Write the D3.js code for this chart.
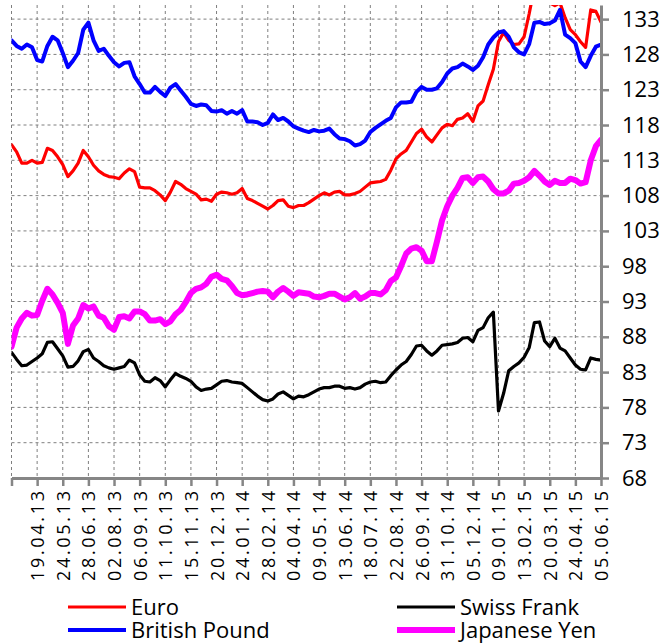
<!DOCTYPE html>
<html>
<head>
<meta charset="utf-8">
<script src="https://cdn.jsdelivr.net/npm/d3@7"></script>
<style>
  body { margin: 0; background: #fff; }
  text { font-family: "Open Sans", sans-serif; fill: #000; }
</style>
</head>
<body>
<script>
// tick labels, one every 5 weeks (first tick has no label)
var dates = ["19.04.13","24.05.13","28.06.13","02.08.13","06.09.13","11.10.13","15.11.13","20.12.13",
             "24.01.14","28.02.14","04.04.14","09.05.14","13.06.14","18.07.14","22.08.14","26.09.14",
             "31.10.14","05.12.14","09.01.15","13.02.15","20.03.15","24.04.15","05.06.15"];

var yTicks = [68,73,78,83,88,93,98,103,108,113,118,123,128,133];

// weekly values
var euro = [115.2,114.2,112.6,112.6,113.0,112.6,112.7,114.7,114.4,113.5,
            112.4,110.7,111.5,112.6,114.4,113.5,112.3,111.5,111.0,110.7,
            110.6,110.4,111.2,111.8,111.4,109.2,109.1,109.1,108.7,108.1,
            107.3,108.5,110.0,109.6,109.0,108.6,108.2,107.4,107.5,107.2,
            108.2,108.5,108.4,108.2,108.4,109.0,107.6,107.3,106.9,106.5,
            106.1,106.6,107.3,107.4,106.5,106.3,106.6,106.6,107.0,107.5,
            108.0,108.4,108.1,108.5,108.6,108.1,108.1,108.3,108.6,109.2,
            109.8,109.9,110.0,110.3,111.6,113.2,113.9,114.4,115.6,116.8,
            117.4,116.3,115.6,116.6,117.6,118.1,117.9,118.8,119.0,119.6,
            118.5,120.7,121.4,123.7,125.9,129.8,131.1,130.0,129.4,129.5,
            130.5,133.8,137.5,138.8,137.0,135.3,134.9,135.3,133.2,131.5,
            130.8,129.8,129.0,134.3,134.1,132.6];

var franc = [85.8,84.8,83.9,84.0,84.5,85.0,85.6,87.2,87.3,86.3,
             85.3,83.7,83.8,84.6,85.9,86.2,85.0,84.5,83.9,83.6,
             83.4,83.6,83.8,84.7,84.3,82.6,81.7,81.6,82.2,81.8,
             80.9,81.9,82.8,82.4,82.1,81.7,80.9,80.4,80.6,80.7,
             81.2,81.7,81.8,81.6,81.5,81.4,80.8,80.2,79.6,79.1,
             78.9,79.2,79.9,80.2,79.7,79.2,79.6,79.5,79.8,80.2,
             80.6,80.8,80.8,81.0,81.0,80.7,80.8,80.6,80.8,81.3,
             81.6,81.7,81.5,81.6,82.5,83.3,84.0,84.5,85.5,86.7,
             86.8,86.0,85.4,86.0,86.8,86.9,87.0,87.2,87.8,87.9,
             87.3,88.9,89.3,90.7,91.5,77.5,80.0,83.2,83.8,84.3,
             85.1,86.5,90.0,90.1,87.4,86.6,87.8,86.4,86.0,85.0,
             84.0,83.4,83.3,85.0,84.8,84.7];

var pound = [130.0,129.2,128.8,129.4,129.0,127.2,127.0,129.2,130.5,130.0,
             128.2,126.2,127.1,128.2,131.5,132.5,130.0,128.5,128.8,127.8,
             126.9,126.3,126.8,126.9,124.9,123.8,122.6,122.6,123.4,122.7,
             122.1,123.3,123.8,122.9,122.0,121.0,120.7,120.9,120.8,120.0,
             119.9,120.1,119.6,120.0,119.6,120.1,118.5,118.5,118.4,118.0,
             118.3,119.5,118.7,119.0,118.5,117.8,117.5,117.2,117.0,117.3,
             117.1,117.2,117.5,116.7,116.1,116.0,115.7,115.1,115.3,115.8,
             117.0,117.6,118.1,118.6,119.0,120.5,121.2,121.2,121.3,122.7,
             123.4,123.0,123.0,123.2,124.1,125.3,126.0,126.2,126.7,126.3,
             125.8,126.4,127.6,129.4,130.4,131.1,131.3,130.5,129.0,128.3,
             128.0,129.5,132.5,132.6,132.3,132.4,132.8,134.3,130.8,130.3,
             129.6,127.0,126.2,127.8,129.1,129.4];

var yen = [86.6,89.3,90.6,91.4,91.0,91.1,93.1,94.8,94.0,92.8,
           91.4,87.0,89.6,90.6,92.5,92.0,92.3,91.0,90.7,89.5,
           89.0,90.8,90.9,90.6,91.6,91.6,91.2,90.3,90.3,90.5,
           89.8,90.2,91.2,91.8,92.9,94.2,94.8,95.0,95.5,96.5,
           96.8,96.2,96.0,95.2,94.2,93.9,94.0,94.2,94.4,94.5,
           94.4,93.6,94.4,94.9,94.4,93.8,94.3,94.2,94.1,93.7,
           93.6,93.8,94.1,94.1,93.7,93.3,93.6,94.2,93.4,93.7,
           94.2,94.2,94.0,94.6,95.9,96.4,98.0,99.8,100.5,100.7,
           100.2,98.7,98.7,101.5,104.5,106.5,108.0,109.1,110.5,110.6,
           109.8,110.6,110.7,110.0,108.9,108.3,108.3,108.7,109.7,109.8,
           110.1,110.6,111.5,110.8,110.0,109.5,110.1,109.8,109.8,110.4,
           110.2,109.7,109.9,113.0,115.0,115.9];

var series = [
  { name: "Euro", values: euro, color: "#ff0000", width: 3.2 },
  { name: "Swiss Frank", values: franc, color: "#000000", width: 3.2 },
  { name: "British Pound", values: pound, color: "#0000ff", width: 4 },
  { name: "Japanese Yen", values: yen, color: "#ff00ff", width: 6 }
];

var W = 664, H = 643;
var plotLeft = 11.5, plotRight = 601, plotTop = 5, plotBottom = 478;
var weeksPerTick = 5;
var nWeeks = euro.length - 1;

var svg = d3.select("body").append("svg").attr("width", W).attr("height", H);

var x = d3.scaleLinear().domain([0, nWeeks]).range([plotLeft, plotRight]);
var y = d3.scaleLinear().domain([68, 135]).range([plotBottom, plotTop]);

var tickIdx = d3.range(0, nWeeks + 1, weeksPerTick);

// dashed grid
svg.append("g").selectAll("line").data(tickIdx.slice(0, -1)).join("line")
  .attr("x1", d => x(d)).attr("x2", d => x(d))
  .attr("y1", plotTop).attr("y2", plotBottom)
  .attr("stroke", "#7f7f7f").attr("stroke-width", 1).attr("stroke-dasharray", "3,3");
svg.append("g").selectAll("line").data(yTicks.slice(1)).join("line")
  .attr("x1", plotLeft).attr("x2", plotRight)
  .attr("y1", d => y(d)).attr("y2", d => y(d))
  .attr("stroke", "#7f7f7f").attr("stroke-width", 1).attr("stroke-dasharray", "3,3");

svg.append("clipPath").attr("id", "plot")
  .append("rect").attr("x", plotLeft).attr("y", plotTop)
  .attr("width", plotRight - plotLeft).attr("height", plotBottom - plotTop);

var line = d3.line().x((d, i) => x(i)).y(d => y(d));

svg.append("g").attr("clip-path", "url(#plot)")
  .selectAll("path").data(series).join("path")
  .attr("d", d => line(d.values))
  .attr("fill", "none")
  .attr("stroke", d => d.color)
  .attr("stroke-width", d => d.width)
  .attr("stroke-linejoin", "round")
  .attr("stroke-linecap", "round");

// x axis
var xAxis = svg.append("g").attr("transform", "translate(0," + plotBottom + ")")
  .call(d3.axisBottom(x).tickValues(tickIdx).tickSizeInner(8).tickSizeOuter(0)
    .tickFormat((d, i) => i === 0 ? "" : dates[i - 1]));
xAxis.select(".domain").attr("stroke", "#868686").attr("stroke-width", 3);
xAxis.selectAll(".tick line").attr("stroke", "#868686").attr("stroke-width", 2.5);
xAxis.selectAll(".tick text")
  .attr("transform", "translate(0,13) rotate(-90)")
  .attr("x", 0).attr("y", 0).attr("dy", "0.36em")
  .attr("text-anchor", "end")
  .attr("textLength", d => d === 0 ? null : 90)
  .attr("lengthAdjust", "spacing")
  .style("font-family", "'Open Sans', sans-serif")
  .style("font-size", "18px").style("fill", "#000");

// y axis on the right
var yAxis = svg.append("g").attr("transform", "translate(" + plotRight + ",0)")
  .call(d3.axisRight(y).tickValues(yTicks).tickSizeInner(8).tickSizeOuter(0).tickPadding(13));
yAxis.select(".domain").attr("stroke", "#868686").attr("stroke-width", 3);
yAxis.selectAll(".tick line").attr("stroke", "#868686").attr("stroke-width", 2.5);
yAxis.selectAll(".tick text")
  .style("font-family", "'Open Sans', sans-serif")
  .style("font-size", "22px").style("fill", "#000");

// legend: two columns, filled row-wise
var legX = [68, 397], legY = [607, 630];
var leg = svg.append("g").selectAll("g").data(series).join("g")
  .attr("transform", (d, i) => "translate(" + legX[i % 2] + "," + legY[Math.floor(i / 2)] + ")");
leg.append("line").attr("x1", 0).attr("x2", 58).attr("y1", 0).attr("y2", 0)
  .attr("stroke", d => d.color).attr("stroke-width", d => d.width);
leg.append("text").attr("x", 63).attr("y", 8)
  .style("font-size", "22px")
  .text(d => d.name);
</script>
</body>
</html>
